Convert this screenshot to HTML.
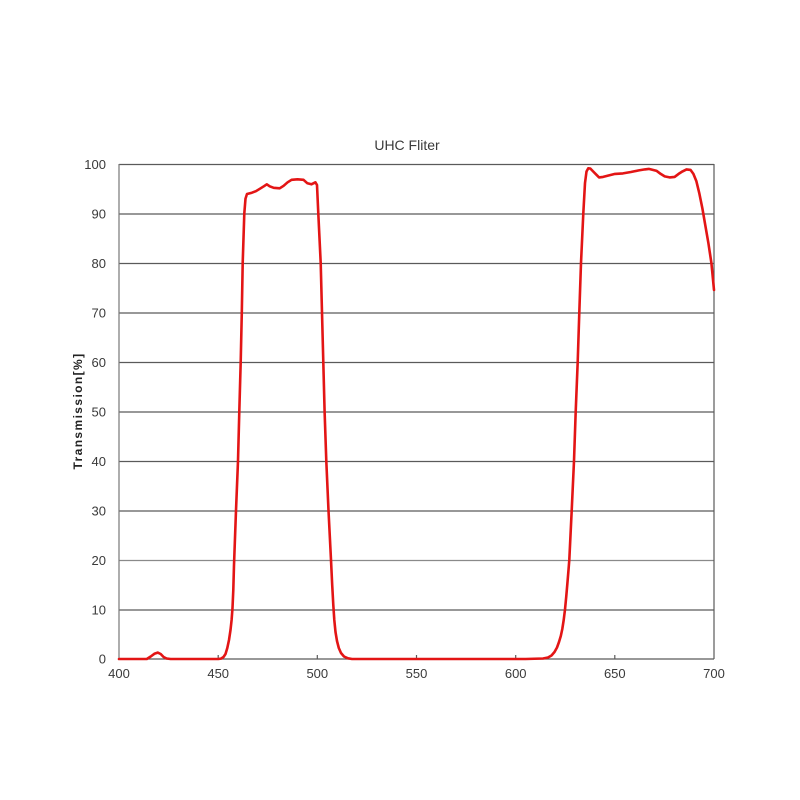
<!DOCTYPE html>
<html><head><meta charset="utf-8"><style>
html,body{margin:0;padding:0;background:#fff;}
svg{display:block;}
text{font-family:"Liberation Sans",Arial,sans-serif;fill:#3a3a3a;}
</style></head><body>
<svg width="800" height="800" viewBox="0 0 800 800" xmlns="http://www.w3.org/2000/svg">
<rect width="800" height="800" fill="#fff"/>
<text x="407" y="150" font-size="14" text-anchor="middle">UHC Fliter</text>
<g stroke="#5a5a5a" stroke-width="1.2" fill="none">
<line x1="119" y1="164.5" x2="714" y2="164.5"/>
<line x1="119" y1="214" x2="714" y2="214"/>
<line x1="119" y1="263.5" x2="714" y2="263.5"/>
<line x1="119" y1="313" x2="714" y2="313"/>
<line x1="119" y1="362.5" x2="714" y2="362.5"/>
<line x1="119" y1="412" x2="714" y2="412"/>
<line x1="119" y1="461.5" x2="714" y2="461.5"/>
<line x1="119" y1="511" x2="714" y2="511"/>
<line x1="119" y1="560.5" x2="714" y2="560.5" stroke="#8a8a8a"/>
<line x1="119" y1="610" x2="714" y2="610"/>
<line x1="119" y1="659" x2="714" y2="659"/>
<line x1="119" y1="164" x2="119" y2="659" stroke="#777"/>
<line x1="714" y1="164" x2="714" y2="659"/>
<line x1="218.2" y1="655" x2="218.2" y2="659"/>
<line x1="317.3" y1="655" x2="317.3" y2="659"/>
<line x1="416.5" y1="655" x2="416.5" y2="659"/>
<line x1="515.7" y1="655" x2="515.7" y2="659"/>
<line x1="614.8" y1="655" x2="614.8" y2="659"/>
</g>
<g font-size="13" text-anchor="end">
<text x="106" y="169">100</text>
<text x="106" y="218.5">90</text>
<text x="106" y="268">80</text>
<text x="106" y="317.5">70</text>
<text x="106" y="367">60</text>
<text x="106" y="416.5">50</text>
<text x="106" y="466">40</text>
<text x="106" y="515.5">30</text>
<text x="106" y="565">20</text>
<text x="106" y="614.5">10</text>
<text x="106" y="663.5">0</text>
</g>
<g font-size="13" text-anchor="middle">
<text x="119" y="678">400</text>
<text x="218.2" y="678">450</text>
<text x="317.3" y="678">500</text>
<text x="416.5" y="678">550</text>
<text x="515.7" y="678">600</text>
<text x="614.8" y="678">650</text>
<text x="714" y="678">700</text>
</g>
<text transform="translate(82,411) rotate(-90)" font-size="12" font-weight="bold" text-anchor="middle" letter-spacing="1.4" style="fill:#222">Transmission[%]</text>
<polyline fill="none" stroke="#e31515" stroke-width="2.6" stroke-linejoin="round" stroke-linecap="round" points="
119,659 146.8,659 150.7,656.5 154.7,653.6 157.7,652.6 160.7,654 163.6,657 166.6,658.5 170.6,659
218.3,659 221,658.6 223.5,657 225.5,654 227.3,648 229,640 230.5,630 231.6,620 232.5,608 233.3,590 234,565 236,510.5 238,461 239.3,411.5 240.7,362 241.8,312.5 242.7,263 244.3,213.5 245.5,198.6 247,194
251.9,192.7 255.9,191.2 259.8,188.8 263.8,186.3 266.8,184.3 269.7,186.3 273.7,187.8 279.7,188.3 283.6,185.8 287.6,182.3 291.6,179.8 297.5,179.3 303.5,179.8 307.4,183.3 311.4,184.3 315.4,182.3
317,185 318.3,213.5 320.7,263 322,312.5 323.3,362 324.6,411.5 326.3,461 328.5,510.5 331,560 332.2,585 333.3,605 334.3,620 335.5,632 337,641 338.8,648 341,653 344,656.5 348,658.3 352,659
525.6,659 543,658.5 548,657.5 551.5,655.5 554.5,652 557,647.5 559,642 560.8,636 562.3,629 563.7,620 565,609.5 566.3,596 567.5,582 568.5,570 569.3,560 571.7,510.5 574,461 575.7,411.5 577.7,362 579.3,312.5 581,263 583.3,213.5 585,183 586.5,171.5 588.3,168.3 590.3,168.5 593.2,171.5 596.1,174.4 599.1,177.4 603.1,176.9 609,175.4 615,173.9 622.9,173.4 630.9,172 638.8,170.4 644.8,169.4 648.8,168.9 652.8,169.9 656.7,170.9 660.7,173.9 664.7,176.4 669.6,177.4 674.6,176.9 678.6,173.9 682.5,171.4 686.5,169.4 690.5,169.9 693.4,173.9 696.4,181.3 699.4,193.7 702.4,208.5 705.4,225.9 708.4,243.2 711.4,263 714,290"/>
</svg>
</body></html>
